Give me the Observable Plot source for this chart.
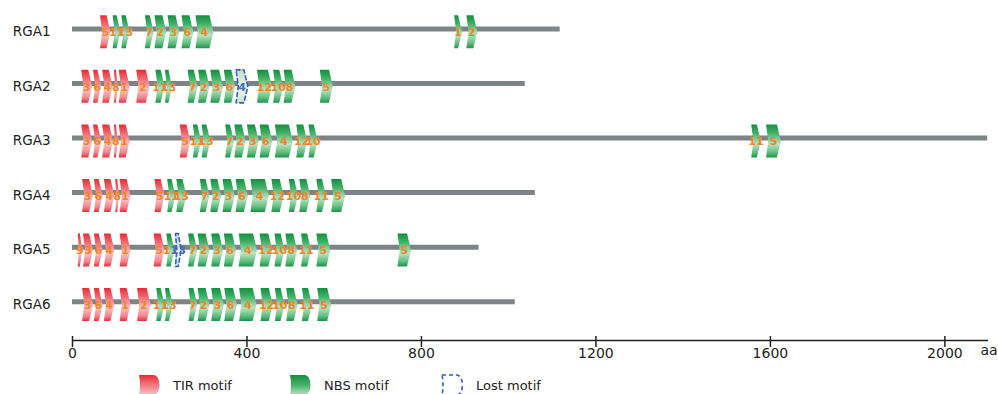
<!DOCTYPE html>
<html><head><meta charset="utf-8">
<script src="https://cdn.jsdelivr.net/npm/d3@7"></script>
<script src="https://cdn.jsdelivr.net/npm/@observablehq/plot@0.6"></script>
<style>
body{margin:0;background:#fff;font-family:"DejaVu Sans",sans-serif;}
#wrap{position:relative;width:998px;height:394px;overflow:hidden;}
#wrap svg.plot{display:block;}
.leg{position:absolute;top:374px;height:22px;display:flex;align-items:center;font-size:13px;color:#222;font-family:"DejaVu Sans",sans-serif;}
.leg svg{margin-right:12px;}
</style></head><body><div id="wrap"></div>
<script>
// ---- data ----
const genes = ["RGA1","RGA2","RGA3","RGA4","RGA5","RGA6"];
const lengths = [1118, 1038, 2098, 1061, 932, 1015];
const xTicks = [0, 400, 800, 1200, 1600, 2000];
// motifs: [type (T = TIR, N = NBS, L = lost), label, start aa, end aa]
const rga1 = [["T","5",63,87],["N","11",92,110],["N","13",112,131],["N","7",166,186],["N","2",188,215],["N","3",218,245],["N","6",250,277],["N","4",282,323],["N","1",875,893],["N","2",903,928]];
const rga2 = [["T","3",20,45],["T","6",47,66],["T","4",68,92],["T","8",95,104],["T","1",106,131],["T","2",146,177],["N","11",190,211],["N","13",212,228],["N","7",264,287],["N","2",288,314],["N","3",316,345],["N","6",347,373],["L","4",375,402],["N","12",423,457],["N","10",460,483],["N","8",484,511],["N","5",567,597]];
const rga3 = [["T","3",20,45],["T","6",47,66],["T","4",68,93],["T","8",95,104],["T","1",106,131],["T","5",246,270],["N","11",276,295],["N","13",296,316],["N","7",350,370],["N","2",371,397],["N","3",400,427],["N","6",429,458],["N","4",464,505],["N","12",513,538],["N","10",541,562],["N","11",1556,1578],["N","5",1590,1624]];
const rga4 = [["T","3",22,47],["T","6",49,69],["T","4",72,96],["T","8",98,107],["T","1",108,133],["T","5",188,211],["N","11",217,236],["N","13",238,261],["N","7",292,314],["N","2",316,341],["N","3",344,372],["N","6",374,402],["N","4",408,450],["N","12",456,484],["N","10",496,517],["N","8",520,545],["N","11",559,581],["N","5",593,625]];
const rga5 = [["T","9",12,22],["T","3",24,47],["T","6",49,69],["T","4",72,96],["T","1",108,133],["T","5",186,211],["N","11",215,234],["L","13",236,249],["N","7",265,286],["N","2",287,314],["N","3",318,345],["N","6",347,375],["N","4",381,423],["N","12",429,458],["N","10",463,486],["N","8",488,515],["N","11",524,547],["N","5",559,591],["N","5",745,776]];
const rga6 = [["T","3",22,47],["T","6",49,69],["T","4",72,96],["T","1",108,133],["T","2",148,179],["N","11",192,211],["N","13",212,230],["N","7",266,286],["N","2",287,314],["N","3",318,347],["N","6",348,377],["N","4",382,422],["N","12",431,459],["N","10",464,486],["N","8",490,516],["N","11",526,549],["N","5",561,593]];
const motifSets = [rga1, rga2, rga3, rga4, rga5, rga6];

// ---- derived tables ----
const rows = genes.map((g, i) => ({gene: g, row: i, start: 0, length: lengths[i]}));
const motifs = [];
motifSets.forEach((set, r) => set.forEach(([type, label, start, end], k) =>
  motifs.push({id: `${r}-${k}`, row: r, type, label, start, end})));

// polygon outline (arrow with notched tail) built from each motif's extent
const HALF = 0.3025, TIP = 9, NOTCH = 5;
const outline = [];
for (const m of motifs) {
  const w = m.end - m.start;
  const tip = Math.min(TIP, w * 0.5), notch = Math.min(NOTCH, w * 0.25);
  const pts = [
    [m.start, m.row - HALF], [m.end - tip, m.row - HALF], [m.end, m.row],
    [m.end - tip, m.row + HALF], [m.start, m.row + HALF], [m.start + notch, m.row],
    [m.start, m.row - HALF]
  ];
  pts.forEach(([x, y], j) => outline.push({id: m.id, type: m.type, x, y, j}));
}

const Y_TOP = -0.574, Y_BOTTOM = 5.66;
const orange = "#f0852a", blue = "#3d6fc2";

const plot = Plot.plot({
  width: 998, height: 368,
  marginLeft: 72, marginRight: 10, marginTop: 0, marginBottom: 28,
  x: {domain: [0, 2100], axis: null},
  y: {domain: [Y_BOTTOM, Y_TOP], axis: null},
  style: {fontFamily: "DejaVu Sans, sans-serif", background: "white", color: "#222"},
  marks: [
    Plot.ruleY(rows, {y: "row", x1: "start", x2: "length", stroke: "#7d8485", strokeWidth: 5, dy: -2.8}),
    Plot.line(outline.filter(d => d.type === "T"), {x: "x", y: "y", z: "id", fill: "url(#gTIR)", stroke: "none", curve: "linear"}),
    Plot.line(outline.filter(d => d.type === "N"), {x: "x", y: "y", z: "id", fill: "url(#gNBS)", stroke: "none", curve: "linear"}),
    Plot.line(outline.filter(d => d.type === "L"), {x: "x", y: "y", z: "id", fill: "url(#gLost)", stroke: "#2f5fc4", strokeWidth: 1.6, strokeDasharray: "4,3", curve: "linear"}),
    Plot.text(motifs.filter(d => d.type !== "L"), {x: d => (d.start + d.end) / 2, y: "row", text: "label", fill: orange, fontWeight: "bold", fontSize: 11, dy: 1}),
    Plot.text(motifs.filter(d => d.type === "L"), {x: d => (d.start + d.end) / 2, y: "row", text: "label", fill: blue, fontWeight: "bold", fontSize: 11, dy: 1}),
    Plot.axisY({ticks: genes.map((g, i) => i), tickFormat: i => genes[i], tickSize: 0, tickPadding: 22, fontSize: 13.5, label: null}),
    Plot.ruleY([Y_BOTTOM], {stroke: "#222", strokeWidth: 1.5}),
    Plot.axisX({ticks: xTicks, tickFormat: d => String(d), tickSize: 11, tickPadding: 1, dy: -4, fontSize: 14, label: null, stroke: "#222", strokeWidth: 1.5}),
    Plot.text(["aa"], {frameAnchor: "bottom-right", textAnchor: "start", dx: -8, dy: 14, fontSize: 14})
  ]
});

// gradient definitions used by the motif fills
const defs = d3.select(plot).insert("defs", ":first-child");
function grad(id, stops) {
  const g = defs.append("linearGradient").attr("id", id).attr("x1", 0).attr("y1", 0).attr("x2", 0).attr("y2", 1);
  stops.forEach(([o, c]) => g.append("stop").attr("offset", o).attr("stop-color", c));
}
grad("gTIR", [[0, "#ea2a35"], [0.25, "#f0646c"], [0.6, "#fac3c6"], [0.85, "#f3848b"], [1, "#e8303b"]]);
grad("gNBS", [[0, "#12903f"], [0.25, "#3fae64"], [0.6, "#b9e4c2"], [0.85, "#5fbd7c"], [1, "#17954a"]]);
grad("gLost", [[0, "#c3ddc7"], [0.6, "#eef6ef"], [1, "#c9e2cd"]]);

const wrap = document.getElementById("wrap");
wrap.appendChild(plot);

// legend below the chart
const legendItems = [
  {name: "TIR motif", left: 138, fill: "url(#lTIR)", stroke: "none", dash: null},
  {name: "NBS motif", left: 289, fill: "url(#lNBS)", stroke: "none", dash: null},
  {name: "Lost motif", left: 441, fill: "none", stroke: "#2f5fc4", dash: "4,3"}
];
legendItems.forEach(it => {
  const div = document.createElement("div");
  div.className = "leg";
  div.style.left = it.left + "px";
  div.innerHTML = `<svg width="23" height="22" viewBox="0 0 23 22">
    <defs>
      <linearGradient id="lTIR" x1="0" y1="0" x2="0" y2="1"><stop offset="0" stop-color="#ea2a35"/><stop offset="0.5" stop-color="#f27880"/><stop offset="1" stop-color="#fac3c6"/></linearGradient>
      <linearGradient id="lNBS" x1="0" y1="0" x2="0" y2="1"><stop offset="0" stop-color="#12903f"/><stop offset="0.5" stop-color="#48b06a"/><stop offset="1" stop-color="#b9e4c2"/></linearGradient>
    </defs>
    <path d="M1,1 H16 Q21,2 21.5,11 Q21,20 16,21 H1 Q3,11 1,1 Z" fill="${it.fill}" stroke="${it.stroke}" stroke-width="1.6" ${it.dash ? `stroke-dasharray="${it.dash}"` : ""}/>
  </svg><span>${it.name}</span>`;
  wrap.appendChild(div);
});
</script>
</body></html>
